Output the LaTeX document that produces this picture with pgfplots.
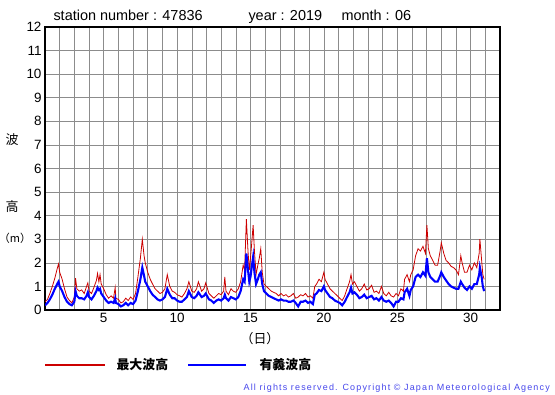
\documentclass[border=0pt]{standalone}
\usepackage{pgfplots}
\usepackage{pgfplotstable}
\pgfplotsset{compat=1.18}
\usepackage{fontspec}
\setmainfont{Liberation Sans}
\newfontfamily\cjk{Noto Sans CJK JP}
\definecolor{maxred}{RGB}{204,0,0}
\definecolor{sigblue}{RGB}{0,0,255}
\definecolor{copyblue}{RGB}{70,70,235}
\pgfplotstableread{
d mx sg
1.00 0.35 0.20
1.17 0.45 0.30
1.33 0.70 0.45
1.50 1.00 0.65
1.67 1.35 0.90
1.83 1.75 1.10
1.92 1.95 1.20
2.00 1.60 1.00
2.17 1.30 0.80
2.33 0.90 0.55
2.50 0.55 0.35
2.67 0.40 0.25
2.83 0.30 0.20
3.00 0.55 0.35
3.08 1.35 0.80
3.17 0.90 0.60
3.33 0.80 0.50
3.50 0.85 0.50
3.67 0.70 0.45
3.83 1.00 0.60
3.92 1.15 0.75
4.00 0.80 0.55
4.17 0.70 0.45
4.33 0.95 0.60
4.50 1.25 0.80
4.58 1.55 0.95
4.67 1.20 0.85
4.75 1.50 0.90
4.83 1.10 0.70
5.00 0.90 0.55
5.17 0.65 0.40
5.33 0.50 0.30
5.50 0.60 0.35
5.67 0.50 0.30
5.78 0.95 0.50
5.83 0.50 0.30
6.00 0.45 0.25
6.17 0.30 0.15
6.33 0.35 0.20
6.50 0.50 0.30
6.67 0.40 0.20
6.83 0.55 0.30
7.00 0.45 0.25
7.17 0.70 0.40
7.33 1.40 0.80
7.50 2.20 1.30
7.63 3.00 1.80
7.75 2.30 1.45
7.83 2.00 1.20
8.00 1.60 1.00
8.17 1.30 0.80
8.33 1.10 0.65
8.50 0.90 0.55
8.67 0.80 0.45
8.83 0.70 0.40
9.00 0.75 0.45
9.17 0.90 0.55
9.33 1.50 0.90
9.50 1.00 0.65
9.67 0.80 0.50
9.83 0.75 0.50
10.00 0.65 0.40
10.17 0.60 0.35
10.33 0.55 0.35
10.50 0.70 0.45
10.67 0.90 0.55
10.80 1.20 0.80
11.00 0.80 0.55
11.17 0.75 0.50
11.33 0.90 0.60
11.45 1.20 0.75
11.67 0.80 0.55
11.83 0.90 0.60
11.95 1.15 0.70
12.17 0.70 0.45
12.33 0.60 0.40
12.50 0.50 0.30
12.67 0.60 0.40
12.83 0.70 0.45
13.00 0.65 0.40
13.17 0.80 0.50
13.25 1.40 0.65
13.33 0.80 0.50
13.50 0.65 0.40
13.67 0.90 0.55
13.83 0.80 0.50
14.00 0.75 0.45
14.17 0.90 0.55
14.33 1.20 0.80
14.50 1.90 1.30
14.60 1.70 1.20
14.72 3.85 2.40
14.83 2.50 1.70
14.92 1.70 1.20
15.00 2.20 1.40
15.08 2.80 1.80
15.18 3.60 2.25
15.27 2.50 1.60
15.38 1.50 1.10
15.50 1.90 1.30
15.60 2.20 1.50
15.70 2.60 1.60
15.80 1.60 1.10
15.92 1.10 0.80
16.08 1.00 0.70
16.25 0.90 0.60
16.42 0.80 0.55
16.58 0.75 0.50
16.75 0.70 0.45
16.92 0.60 0.40
17.08 0.70 0.45
17.25 0.60 0.40
17.42 0.65 0.40
17.58 0.55 0.35
17.75 0.60 0.35
17.92 0.70 0.40
18.08 0.50 0.30
18.25 0.55 0.15
18.42 0.65 0.35
18.58 0.60 0.35
18.75 0.70 0.40
18.92 0.55 0.30
19.08 0.60 0.35
19.25 0.50 0.25
19.38 1.00 0.65
19.50 1.10 0.70
19.67 1.30 0.85
19.83 1.20 0.80
20.00 1.60 1.00
20.08 1.30 0.85
20.25 1.10 0.70
20.42 0.90 0.55
20.58 0.80 0.50
20.75 0.70 0.40
20.92 0.60 0.35
21.08 0.50 0.30
21.25 0.40 0.20
21.42 0.60 0.35
21.58 0.90 0.55
21.75 1.20 0.75
21.85 1.50 0.95
21.95 1.10 0.70
22.08 1.20 0.75
22.25 1.00 0.65
22.42 0.80 0.50
22.58 0.90 0.55
22.75 1.10 0.65
22.92 0.85 0.50
23.08 0.90 0.55
23.25 1.05 0.60
23.42 0.75 0.45
23.58 0.80 0.50
23.75 0.70 0.40
23.92 1.00 0.55
24.08 0.70 0.40
24.25 0.60 0.35
24.42 0.75 0.40
24.58 0.60 0.30
24.75 0.55 0.15
24.92 0.70 0.35
25.08 0.60 0.35
25.25 0.90 0.50
25.42 0.80 0.45
25.50 1.30 0.75
25.67 1.50 0.90
25.83 1.20 0.60
25.92 1.50 0.85
26.08 1.70 1.00
26.25 2.30 1.40
26.42 2.60 1.50
26.58 2.50 1.40
26.75 2.70 1.60
26.92 2.40 1.45
27.02 3.60 2.20
27.12 2.60 1.60
27.25 2.30 1.40
27.42 2.10 1.30
27.58 1.90 1.20
27.75 1.90 1.20
27.92 2.50 1.45
28.00 2.85 1.60
28.17 2.40 1.40
28.33 2.10 1.25
28.50 2.00 1.10
28.67 1.85 1.00
28.83 1.80 0.95
29.00 1.70 0.90
29.17 1.50 0.90
29.33 2.30 1.20
29.42 2.00 1.10
29.58 1.60 0.95
29.75 1.60 0.85
29.92 1.90 1.00
30.08 1.70 0.90
30.25 2.00 1.10
30.42 1.80 1.10
30.58 2.40 1.50
30.63 3.00 1.80
30.75 2.10 1.40
30.83 1.50 1.00
30.92 1.30 0.80
}\wavedata
\begin{document}
\begin{tikzpicture}
\useasboundingbox (0bp,0bp) rectangle (555bp,395bp);
\begin{axis}[
  at={(45bp,85bp)}, anchor=south west,
  scale only axis, width=455bp, height=283bp,
  xmin=1, xmax=32, ymin=0, ymax=12,
  xtick={5,10,...,30}, ytick={0,1,...,12},
  minor xtick={1,...,32},
  grid=both,
  major grid style={gray!90, line width=0.5pt},
  minor grid style={gray!90, line width=0.5pt},
  major tick length=0pt, minor tick length=0pt,
  axis line style={black, line width=1.3pt},
  tick label style={font=\fontsize{13.5}{14}\selectfont},
  /pgf/number format/assume math mode=true,
  clip=true,
]
\addplot[maxred, line width=0.8pt] table[x=d, y=mx] {\wavedata};
\addplot[sigblue, line width=2.1pt] table[x=d, y=sg] {\wavedata};
\end{axis}
\node[anchor=base west, font=\fontsize{14.5}{15}\selectfont] at (50bp,374bp) {station number : 47836};
\node[anchor=base west, font=\fontsize{14.5}{15}\selectfont] at (245bp,374bp) {year : 2019};
\node[anchor=base west, font=\fontsize{14.5}{15}\selectfont] at (338bp,374bp) {month : 06};
\node[font=\cjk\fontsize{13}{13}\selectfont] at (12bp,255bp) {波};
\node[font=\cjk\fontsize{13}{13}\selectfont] at (12bp,188bp) {高};
\node[inner sep=0pt, font=\cjk\fontsize{11}{11}\selectfont] at (15bp,157bp) {（m）};
\node[font=\cjk\fontsize{13}{13}\selectfont] at (260bp,56bp) {（日）};
\draw[maxred, line width=2.6pt] (45bp,30bp) -- (105bp,30bp);
\node[anchor=west, font=\cjk\bfseries\fontsize{13}{13}\selectfont] at (113bp,30bp) {最大波高};
\draw[sigblue, line width=2.6pt] (188bp,30bp) -- (246bp,30bp);
\node[anchor=west, font=\cjk\bfseries\fontsize{13}{13}\selectfont] at (256bp,30bp) {有義波高};
\node[anchor=east, inner sep=0pt, text=copyblue, font=\fontsize{9}{9}\selectfont\addfontfeatures{LetterSpace=13}] at (550bp,7bp) {All rights reserved. Copyright © Japan Meteorological Agency};
\end{tikzpicture}
\end{document}
